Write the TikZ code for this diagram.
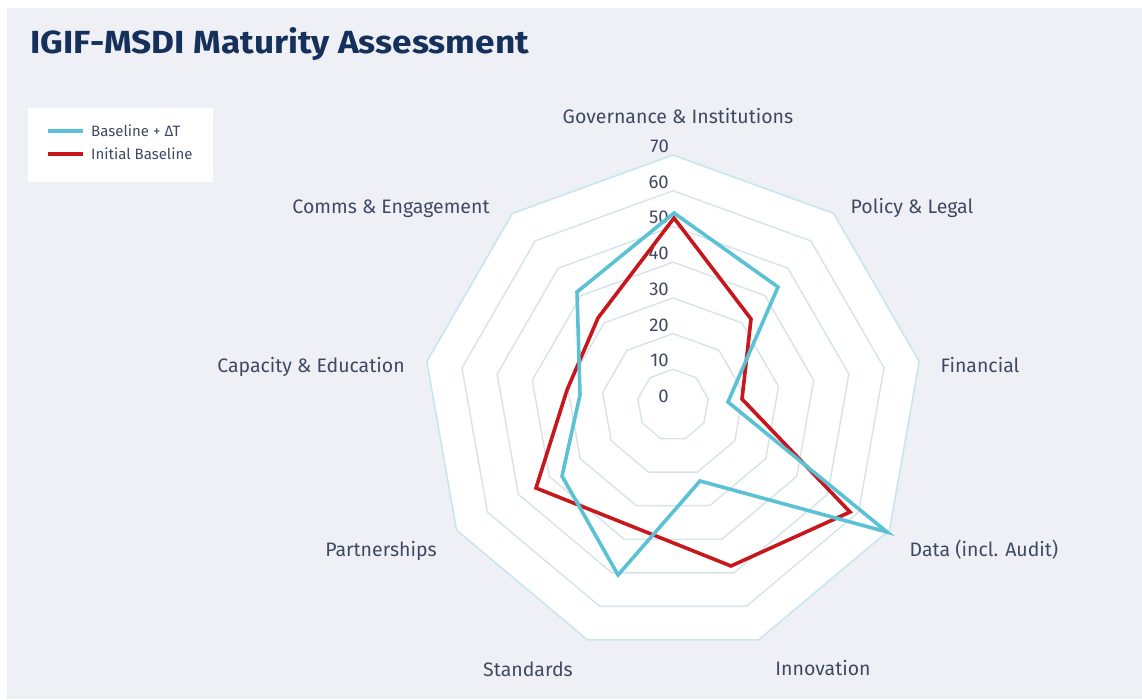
\documentclass[tikz,border=0pt]{standalone}
\usepackage{fontspec}
\setmainfont{Fira Sans}
\definecolor{bgc}{HTML}{EEF0F5}
\definecolor{titlec}{HTML}{15305A}
\definecolor{labc}{HTML}{3F4A62}
\definecolor{gridc}{HTML}{D6E4E9}
\definecolor{outerc}{HTML}{C9E6EE}
\definecolor{cyanc}{HTML}{5BC1D4}
\definecolor{redc}{HTML}{C8161D}
\begin{document}
\begin{tikzpicture}[x=1pt,y=-1pt,
  gridline/.style={draw=gridc, line width=1.4pt},
  outerline/.style={draw=outerc, line width=1.6pt},
  series/.style={line width=3.6pt, line join=miter, miter limit=20},
  axlab/.style={anchor=base, text=labc, font=\fontsize{19.5}{23}\selectfont, inner sep=0pt},
  ringlab/.style={anchor=base east, text=labc, font=\fontsize{18.5}{22}\selectfont, inner sep=0pt},
  leglab/.style={anchor=base west, text=labc, font=\fontsize{15}{18}\selectfont, inner sep=0pt}]
\useasboundingbox (0,0) rectangle (1142,699);
\fill[white] (0,0) rectangle (1142,699);
\fill[bgc] (7,8) rectangle (1142,699);
% title
\node[anchor=base west, inner sep=0pt, text=titlec, font=\fontsize{32}{36}\selectfont\bfseries] (title) at (30,53.5) {\scalebox{1.1}[1]{IGIF-MSDI Maturity Assessment}};
% legend
\node[fill=white, inner sep=0pt, minimum width=185pt, minimum height=73.5pt, anchor=north west] (legend) at (28,108) {};
\coordinate (lc1) at (48,131); \coordinate (lc2) at (83,131);
\coordinate (lr1) at (48,154); \coordinate (lr2) at (83,154);
\draw[cyanc, line width=4pt] (lc1) -- (lc2);
\draw[redc, line width=4pt] (lr1) -- (lr2);
\node[leglab] (legc) at (91,136) {Baseline + ΔT};
\node[leglab] (legr) at (91,159) {Initial Baseline};
% grid
\fill[white] ({673+250*cos(90)},{405-250*sin(90)}) \foreach \k in {1,...,8} { -- ({673+250*cos(90-40*\k)},{405-250*sin(90-40*\k)}) } -- cycle;
\foreach \v in {1,...,6} {
  \pgfmathsetmacro\r{\v*250/7}
  \draw[gridline] ({673+\r*cos(90)},{405-\r*sin(90)}) \foreach \k in {1,...,8} { -- ({673+\r*cos(90-40*\k)},{405-\r*sin(90-40*\k)}) } -- cycle;
}
\draw[outerline] ({673+250*cos(90)},{405-250*sin(90)}) \foreach \k in {1,...,8} { -- ({673+250*cos(90-40*\k)},{405-250*sin(90-40*\k)}) } -- cycle;
% ring labels
\foreach \v/\t in {0/0,1/10,2/20,3/30,4/40,5/50,6/60,7/70} {
  \node[ringlab] (rl\v) at (669,{405-\v*250/7-9+6.5}) {\t};
}
% axis labels
\node[axlab] (gov) at (678,123.5) {Governance \& Institutions};
\node[axlab] (pol) at (912,213.5) {Policy \& Legal};
\node[axlab] (fin) at (980,372.5) {Financial};
\node[axlab] (dat) at (984,556.5) {Data (incl. Audit)};
\node[axlab] (inn) at (823,675.5) {Innovation};
\node[axlab] (sta) at (528,676.5) {Standards};
\node[axlab] (par) at (381,556.5) {Partnerships};
\node[axlab] (cap) at (311,372.5) {Capacity \& Education};
\node[axlab] (com) at (391,213.5) {Comms \& Engagement};
% series: Initial Baseline
\draw[series, redc] (674,218) -- (751,319) -- (742,399) -- (850,512) -- (731,566) -- (631,526) -- (536,488) -- (567,390) -- (598,318) -- cycle;
% series: Baseline + Delta T
\draw[series, cyanc] (674,213) -- (778,287) -- (728,402) -- (887,532) -- (700,481) -- (618,575) -- (562,476) -- (580,395) -- (577,292) -- cycle;
\end{tikzpicture}
\end{document}
